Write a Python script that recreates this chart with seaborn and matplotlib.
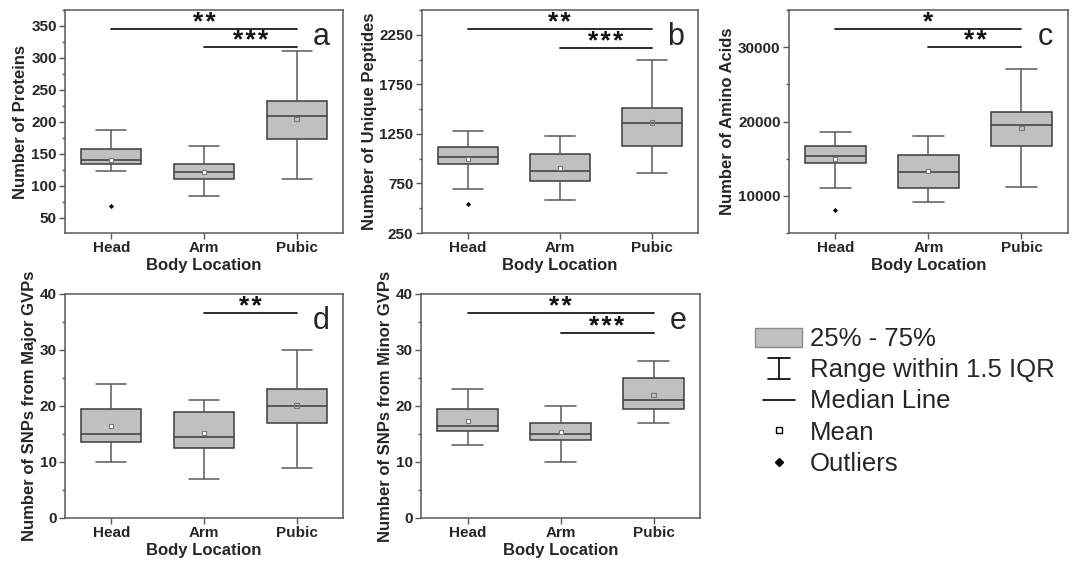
import numpy as np
import pandas as pd
import matplotlib
matplotlib.use("Agg")
import matplotlib.pyplot as plt
import seaborn as sns
from matplotlib.ticker import MultipleLocator
from matplotlib.patches import Patch
from matplotlib.lines import Line2D
from matplotlib.legend_handler import HandlerBase

# --- data: [lower whisker, Q1, median, Q3, upper whisker] ---
groups = ["Head", "Arm", "Pubic"]

prot_box = [[123, 134, 140, 157, 187], [84, 110, 122, 134, 162], [111, 173, 209, 232, 311]]
prot_mean = [141, 122, 204]
prot_out = {"Head": [68]}
prot_sig = [("Head", "Pubic", 346, "**"), ("Arm", "Pubic", 317, "***")]

pept_box = [[693, 947, 1020, 1117, 1277], [587, 777, 880, 1050, 1227], [857, 1130, 1360, 1510, 2000]]
pept_mean = [997, 910, 1363]
pept_out = {"Head": [543]}
pept_sig = [("Head", "Pubic", 2307, "**"), ("Arm", "Pubic", 2120, "***")]

aa_box = [[11070, 14470, 15400, 16740, 18620], [9150, 11070, 13220, 15490, 17990], [11200, 16700, 19510, 21250, 27050]]
aa_mean = [15000, 13350, 19100]
aa_out = {"Head": [8080]}
aa_sig = [("Head", "Pubic", 32500, "*"), ("Arm", "Pubic", 30000, "**")]

major_box = [[10, 13.5, 15, 19.5, 24], [7, 12.5, 14.5, 19, 21], [9, 17, 20, 23, 30]]
major_mean = [16.4, 15.2, 20.1]
major_out = {}
major_sig = [("Arm", "Pubic", 36.6, "**")]

minor_box = [[13, 15.5, 16.5, 19.5, 23], [10, 14, 15, 17, 20], [17, 19.5, 21, 25, 28]]
minor_mean = [17.3, 15.3, 22.0]
minor_out = {}
minor_sig = [("Head", "Pubic", 36.6, "**"), ("Arm", "Pubic", 33.1, "***")]

sns.set_style("ticks")
plt.rcParams["font.family"] = ["Liberation Sans", "DejaVu Sans"]

BOX_FILL = "#c0c0c0"
EDGE = "#3c3c3c"
WHISK = "#5a5a5a"
SPINE = "#5a5a5a"

fig = plt.figure(figsize=(10.73, 5.62), dpi=100)


def draw_panel(rect, box, means, outliers, sig, ylabel, ylim, letter, yticks=None, major=None, minor=None):
    ax = fig.add_axes(rect)
    df = pd.DataFrame({
        "loc": np.repeat(groups, 5),
        "val": np.concatenate(box),
    })
    sns.boxplot(data=df, x="loc", y="val", order=groups, whis=(0, 100), width=0.65,
                color=BOX_FILL, saturation=1, linecolor=EDGE, linewidth=1.1,
                showfliers=False, whiskerprops=dict(color=WHISK), capprops=dict(color=WHISK),
                ax=ax)
    # means (hollow squares)
    sns.stripplot(x=groups, y=means, order=groups, jitter=False, marker="s", size=3.2,
                  color="white", edgecolor="#7a7a7a", linewidth=0.8, ax=ax)
    ax.collections[-1].set_facecolor("none")
    # outliers
    for g, vals in outliers.items():
        sns.stripplot(x=[g] * len(vals), y=vals, order=groups, jitter=False, marker="D",
                      size=2.6, color="black", ax=ax)
    # significance bars, stars spaced a little apart
    for g1, g2, y, stars in sig:
        x1, x2 = groups.index(g1), groups.index(g2)
        ax.plot([x1, x2], [y, y], color="#1a1a1a", lw=1.3)
        ax.annotate("\u200a".join(stars), xy=((x1 + x2) / 2, y), xytext=(0, -0.7),
                    textcoords="offset points", ha="center", va="baseline",
                    fontsize=19, fontweight="bold", color="#111111")
    ax.text(0.92, 0.88, letter, transform=ax.transAxes, ha="center", va="center", fontsize=22)

    ax.set_xlim(-0.5, 2.5)
    ax.set_ylim(*ylim)
    if yticks is not None:
        ax.set_yticks(yticks)
    else:
        ax.yaxis.set_major_locator(MultipleLocator(major))
    ax.yaxis.set_minor_locator(MultipleLocator(minor))
    ax.set_xlabel("Body Location", fontsize=12, fontweight="bold", labelpad=2)
    ax.set_ylabel(ylabel, fontsize=12, fontweight="bold", labelpad=2)
    ax.tick_params(axis="both", which="major", length=4, width=1, color=SPINE,
                   labelsize=11, pad=2)
    ax.tick_params(axis="y", which="minor", length=2.5, width=1, color=SPINE)
    for lab in ax.get_xticklabels() + ax.get_yticklabels():
        lab.set_fontweight("bold")
    for sp in ax.spines.values():
        sp.set_visible(True)
        sp.set_color(SPINE)
        sp.set_linewidth(1.1)
    return ax


draw_panel([0.0606, 0.5854, 0.2591, 0.3968], prot_box, prot_mean, prot_out, prot_sig,
           "Number of Proteins", (26, 375), "a", major=50, minor=25)
draw_panel([0.393, 0.5854, 0.2575, 0.3968], pept_box, pept_mean, pept_out, pept_sig,
           "Number of Unique Peptides", (250, 2500), "b",
           yticks=[250, 750, 1250, 1750, 2250], minor=250)
draw_panel([0.7353, 0.5854, 0.26, 0.3968], aa_box, aa_mean, aa_out, aa_sig,
           "Number of Amino Acids", (5000, 35000), "c", major=10000, minor=5000)
draw_panel([0.0606, 0.0783, 0.2591, 0.3986], major_box, major_mean, major_out, major_sig,
           "Number of SNPs from Major GVPs", (0, 40), "d", major=10, minor=5)
draw_panel([0.3924, 0.0783, 0.26, 0.3986], minor_box, minor_mean, minor_out, minor_sig,
           "Number of SNPs from Minor GVPs", (0, 40), "e", major=10, minor=5)


# --- legend ---
class IBeamHandler(HandlerBase):
    def create_artists(self, legend, orig_handle, xdescent, ydescent, width, height, fontsize, trans):
        cx = width / 2 - xdescent
        hw = width * 0.23
        y0 = -ydescent - 0.05 * height
        y1 = height - ydescent + 0.05 * height
        arts = [Line2D([cx, cx], [y0, y1]), Line2D([cx - hw, cx + hw], [y0, y0]),
                Line2D([cx - hw, cx + hw], [y1, y1])]
        for a in arts:
            a.set_color("black")
            a.set_linewidth(1.2)
            a.set_transform(trans)
        return arts


class ShortLineHandler(HandlerBase):
    def create_artists(self, legend, orig_handle, xdescent, ydescent, width, height, fontsize, trans):
        cx = width / 2 - xdescent
        hw = width * 0.34
        y = height / 2 - ydescent
        ln = Line2D([cx - hw, cx + hw], [y, y], color="black", lw=1.2, transform=trans)
        return [ln]


h_box = Patch(facecolor=BOX_FILL, edgecolor="#8a8a8a", linewidth=1)
h_range = object()
h_med = Line2D([], [])
h_mean = Line2D([], [], ls="none", marker="s", markersize=5, markerfacecolor="none",
                markeredgecolor="black", markeredgewidth=1)
h_out = Line2D([], [], ls="none", marker="D", markersize=4, color="black")

fig.legend([h_box, h_range, h_med, h_mean, h_out],
           ["25% - 75%", "Range within 1.5 IQR", "Median Line", "Mean", "Outliers"],
           handler_map={h_range: IBeamHandler(), h_med: ShortLineHandler()},
           loc="upper left", bbox_to_anchor=(0.7036, 0.418), frameon=False,
           fontsize=18.5, handlelength=1.85, handleheight=0.75, handletextpad=0.3,
           labelspacing=0.28, borderpad=0, borderaxespad=0)

fig.savefig("out.png", dpi=100)
